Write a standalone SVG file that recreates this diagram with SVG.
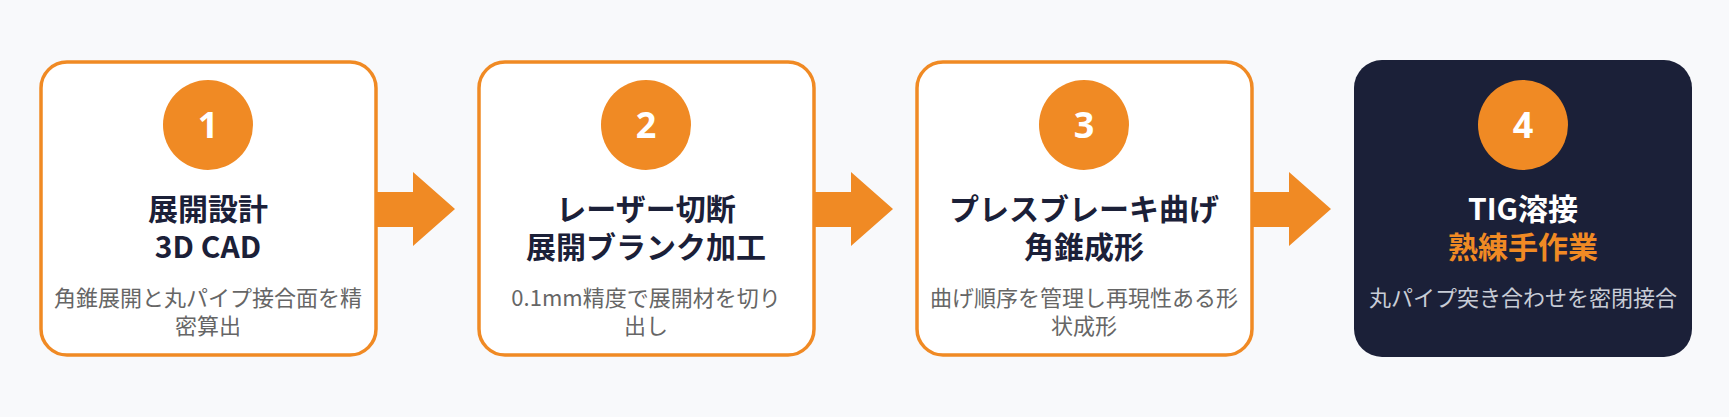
<svg xmlns="http://www.w3.org/2000/svg" width="1729" height="417" viewBox="0 0 1729 417">
<style>
.box{fill:#fff;stroke:#f08a24;stroke-width:3.5}
.dark{fill:#1b2038}
.num{fill:#f08a24}
.n{font-family:"Noto Sans","Noto Sans CJK JP",sans-serif;font-weight:700;font-size:36px;fill:#fff;text-anchor:middle}
.t{font-family:"Noto Sans CJK JP","Noto Sans",sans-serif;font-weight:700;font-size:30px;fill:#1b2038;text-anchor:middle}
.d{font-family:"Noto Sans CJK JP","Noto Sans",sans-serif;font-size:22px;fill:#666;text-anchor:middle}
.arr{fill:#f08a24}
</style>
<rect width="1729" height="417" fill="#f8f9fb"/>
<g id="connectors">
<path class="arr" d="M377 192H413V172L455 209L413 246V227H377Z"/>
<path class="arr" d="M815 192H851V172L893 209L851 246V227H815Z"/>
<path class="arr" d="M1253 192H1289V172L1331 209L1289 246V227H1253Z"/>
</g>
<g id="node1">
<rect class="box" x="41" y="62" width="335" height="293" rx="26"/>
<circle class="num" cx="208" cy="125" r="45"/>
<text class="n" x="208" y="138">1</text>
<text class="t" x="208" y="220">展開設計</text>
<text class="t" x="208" y="258">3D CAD</text>
<text class="d" x="208" y="306">角錐展開と丸パイプ接合面を精</text>
<text class="d" x="208" y="334">密算出</text>
</g>
<g id="node2">
<rect class="box" x="479" y="62" width="335" height="293" rx="26"/>
<circle class="num" cx="646" cy="125" r="45"/>
<text class="n" x="646" y="138">2</text>
<text class="t" x="646" y="220">レーザー切断</text>
<text class="t" x="646" y="258">展開ブランク加工</text>
<text class="d" x="646" y="306">0.1mm精度で展開材を切り</text>
<text class="d" x="646" y="334">出し</text>
</g>
<g id="node3">
<rect class="box" x="917" y="62" width="335" height="293" rx="26"/>
<circle class="num" cx="1084" cy="125" r="45"/>
<text class="n" x="1084" y="138">3</text>
<text class="t" x="1084" y="220">プレスブレーキ曲げ</text>
<text class="t" x="1084" y="258">角錐成形</text>
<text class="d" x="1084" y="306">曲げ順序を管理し再現性ある形</text>
<text class="d" x="1084" y="334">状成形</text>
</g>
<g id="node4">
<rect class="dark" x="1354" y="60" width="338" height="297" rx="28"/>
<circle class="num" cx="1523" cy="125" r="45"/>
<text class="n" x="1523" y="138">4</text>
<text class="t" x="1523" y="220" style="fill:#fff">TIG溶接</text>
<text class="t" x="1523" y="258" style="fill:#f08a24">熟練手作業</text>
<text class="d" x="1523" y="306" style="fill:#c8ccd6">丸パイプ突き合わせを密閉接合</text>
</g>
</svg>
